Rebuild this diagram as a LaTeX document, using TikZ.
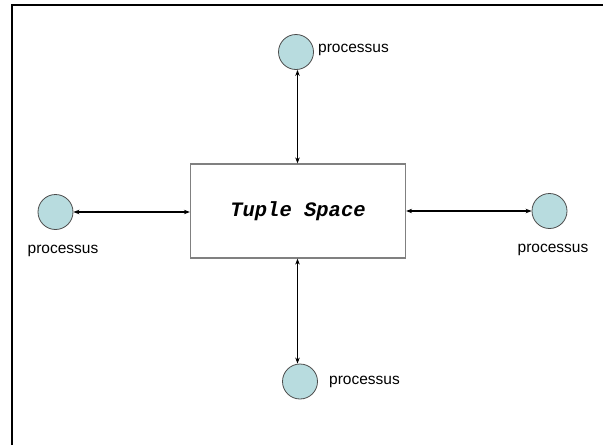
\documentclass[tikz,border=0pt]{standalone}
\usepackage{fontspec}
\setmainfont{Liberation Sans}
\newfontfamily\monofont{Liberation Mono}
\usetikzlibrary{arrows.meta}
\definecolor{procfill}{HTML}{B8DCDF}
\definecolor{boxline}{HTML}{808080}
\begin{document}
\begin{tikzpicture}[x=1pt,y=-1pt,
  proc/.style={circle,draw=black!70,fill=procfill,line width=0.8pt,minimum size=35pt,inner sep=0pt},
  plabel/.style={font=\fontsize{15.5}{17}\selectfont,inner sep=0pt},
  link/.style={{Stealth[length=6pt,width=4.5pt]}-{Stealth[length=6pt,width=4.5pt]},line width=1.4pt}]
\useasboundingbox (0,0) rectangle (603,445);
\fill[white] (0,0) rectangle (603,445);
\coordinate (fa) at (12,445);
\coordinate (fb) at (12,4.5);
\coordinate (fc) at (603,4.5);
\draw[line width=2pt] (fa) -- (fb) -- (fc);
\node[draw=boxline,line width=1.2pt,minimum width=215pt,minimum height=94pt,inner sep=0pt] (ts) at (298,211)
  {\monofont\bfseries\itshape\fontsize{20.5}{22}\selectfont Tuple Space};
\coordinate (vx) at (297.5,211);
\node[proc] (pt) at (296,52) {};
\node[proc] (pl) at (55.5,212) {};
\node[proc] (pr) at (549.5,211) {};
\node[proc] (pb) at (300,381.5) {};
\node[plabel,anchor=west] (lt) at (318,50) {processus};
\node[plabel] (ll) at (63,251) {processus};
\node[plabel] (lr) at (553,250) {processus};
\node[plabel,anchor=west] (lb) at (329,382) {processus};
\draw[link] (pt.south -| vx) -- (ts.north -| vx);
\draw[link] (pl) -- (pl -| ts.west);
\draw[link] (pr -| ts.east) -- (pr);
\draw[link] (ts.south -| vx) -- (pb.north -| vx);
\end{tikzpicture}
\end{document}
